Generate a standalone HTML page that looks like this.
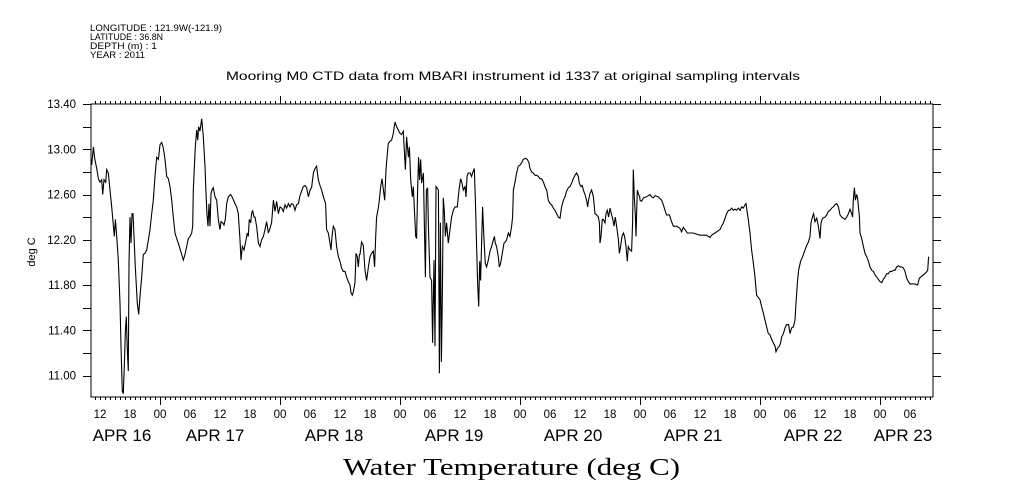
<!DOCTYPE html>
<html><head><meta charset="utf-8"><style>
html,body{margin:0;padding:0;background:#fff;}
svg{display:block;font-family:"Liberation Sans",sans-serif;}
</style></head><body>
<svg id="chart" width="1009" height="504" viewBox="0 0 1009 504" xmlns="http://www.w3.org/2000/svg">
<g font-size="9" fill="#000">
<text x="90" y="31" textLength="132" lengthAdjust="spacingAndGlyphs">LONGITUDE : 121.9W(-121.9)</text>
<text x="90" y="40" textLength="73" lengthAdjust="spacingAndGlyphs">LATITUDE : 36.8N</text>
<text x="90" y="49" textLength="67" lengthAdjust="spacingAndGlyphs">DEPTH (m) : 1</text>
<text x="90" y="58" textLength="55" lengthAdjust="spacingAndGlyphs">YEAR : 2011</text>
</g>
<text x="226" y="80" font-size="12" textLength="574" lengthAdjust="spacingAndGlyphs">Mooring M0 CTD data from MBARI instrument id 1337 at original sampling intervals</text>
<text transform="translate(35,252) rotate(-90)" font-size="11" text-anchor="middle">deg C</text>
<text x="343" y="475" font-family="'Liberation Serif',serif" font-size="24" textLength="337" lengthAdjust="spacingAndGlyphs">Water Temperature (deg C)</text>
<g id="axes"></g>
<g id="marks"></g>
</svg>
<script>
const times = [-13.67,-13.33,-13.07,-12.67,-12.33,-12,-11.67,-11.47,-11.2,-10.87,-10.67,-10.33,-10,-9.67,-9.33,-9.13,-8.93,-8.67,-8.33,-8,-7.8,-7.53,-7.33,-7.13,-6.93,-6.73,-6.53,-6.33,-6.2,-6,-5.8,-5.6,-5.4,-5.2,-4.93,-4.53,-4.27,-4,-3.67,-3.33,-3,-2.67,-2.33,-2,-1.67,-1.33,-1,-0.67,-0.33,0,0.33,0.67,1,1.33,1.67,2,2.33,2.67,3,3.33,3.67,4,4.33,4.67,5,5.33,5.67,6,6.33,6.53,6.67,6.87,7.07,7.33,7.53,7.73,8,8.33,8.67,9,9.2,9.4,9.6,9.8,10,10.2,10.4,10.67,11,11.33,11.67,12,12.2,12.53,12.8,13.07,13.33,13.67,14.13,14.53,15,15.33,15.67,16,16.2,16.47,16.8,17.13,17.47,17.67,17.87,18.13,18.33,18.53,18.8,19,19.33,19.67,20,20.33,20.67,21,21.33,21.67,22,22.33,22.67,23,23.33,23.67,24,24.33,24.67,25,25.33,25.67,26,26.33,26.67,27,27.33,27.67,28,28.33,28.67,29,29.33,29.67,30,30.33,30.67,31,31.33,31.67,32,32.33,32.67,33.13,33.33,33.67,34,34.2,34.4,34.67,35,35.33,35.67,36,36.33,36.67,37,37.33,37.67,38,38.2,38.47,38.67,39,39.2,39.47,39.67,39.87,
40,40.33,40.67,41,41.33,41.67,42,42.33,42.67,42.93,43.13,43.33,43.67,43.87,44.13,44.4,44.67,44.93,45.2,45.47,45.67,46,46.33,46.67,47,47.33,47.67,48,48.33,48.67,48.87,49.07,49.33,49.67,49.87,50.13,50.47,50.67,50.93,51.13,51.33,51.53,51.73,51.93,52.13,52.33,52.67,52.87,53.07,53.27,53.53,53.73,54,54.33,54.53,54.8,55,55.2,55.4,55.67,55.87,56.07,56.27,56.47,56.67,56.87,57.07,57.33,57.67,58,58.33,58.67,59,59.47,59.8,60.13,60.4,60.67,61,61.2,61.4,61.67,62,62.33,62.53,62.87,63.07,63.33,63.53,63.73,63.93,64.13,64.33,64.53,64.8,65.07,65.33,65.67,66,66.33,66.67,66.87,67.07,67.33,67.67,67.87,68.13,68.47,68.8,69.07,69.33,69.67,70,70.33,70.53,70.67,71,71.33,71.67,72,72.33,72.67,73.07,73.47,73.8,74,74.33,74.67,75,75.33,75.67,76,76.33,76.67,77,77.33,77.67,78,78.33,78.67,79,79.33,79.67,80,80.33,80.67,81,81.33,81.67,82,82.33,82.67,83,83.33,83.67,83.87,84.2,84.47,84.67,85,85.33,85.53,85.73,86,86.33,86.67,87,87.33,87.67,87.87,88,88.2,88.47,88.67,89,89.2,89.47,89.73,90,90.33,90.53,90.8,91.07,91.33,91.67,91.87,92.13,92.4,92.67,92.93,93.2,93.47,93.67,94,94.33,94.53,94.67,94.87,95.07,95.2,95.47,95.73,95.93,
96,96.33,96.67,97.33,98,98.33,98.67,99,99.67,100.33,100.67,101,101.33,101.87,102.33,102.67,103.33,104,104.33,104.67,105,105.47,106,106.67,107.33,108,108.67,109.33,110,110.33,111,111.67,112,112.33,112.67,113,113.33,113.67,114,114.33,114.67,115,115.33,115.67,116,116.33,116.67,117,117.2,117.47,117.67,118,118.33,118.67,119,119.33,120,120.33,120.67,121,121.33,121.67,122,122.33,122.67,123,123.2,123.47,123.87,124.13,124.33,124.67,125,125.33,125.73,126,126.33,126.67,127,127.2,127.47,127.73,128.13,128.53,129,129.33,129.67,130,130.2,130.47,130.73,131,131.33,131.67,132,132.2,132.53,133,133.33,133.67,134,134.33,134.67,135,135.33,135.67,136,136.33,136.67,137,137.33,137.67,138,138.33,138.53,138.67,138.87,139.07,139.33,139.53,139.87,140,140.33,140.67,141,141.33,141.67,142,142.33,142.67,143,143.33,143.67,144,144.33,144.67,145,145.33,145.67,146,146.33,146.67,147,147.33,147.67,148,148.33,148.67,149,149.33,149.67,150,150.33,150.67,151,151.33,151.53,151.87,152.13,152.67,153.2,153.53,153.73];
const temps = [12.86,13.02,12.92,12.83,12.74,12.71,12.73,12.60,12.73,12.71,12.82,12.79,12.64,12.49,12.32,12.23,12.38,12.23,12.02,11.64,11.26,10.86,10.84,11.08,11.40,11.52,11.23,11.04,11.99,12.40,12.17,12.43,12.43,12.23,11.96,11.64,11.54,11.70,11.87,12.07,12.08,12.11,12.20,12.29,12.43,12.55,12.76,12.93,12.91,13.04,13.06,13.01,12.91,12.76,12.74,12.67,12.55,12.40,12.26,12.21,12.17,12.12,12.07,12.02,12.07,12.14,12.21,12.23,12.26,12.32,12.64,12.85,13.02,13.17,13.08,13.20,13.16,13.27,13.11,12.85,12.61,12.42,12.32,12.52,12.32,12.61,12.64,12.66,12.58,12.55,12.38,12.29,12.36,12.35,12.33,12.38,12.52,12.58,12.60,12.57,12.52,12.49,12.43,12.20,12.02,12.14,12.11,12.18,12.26,12.23,12.38,12.35,12.43,12.46,12.40,12.40,12.32,12.17,12.14,12.20,12.23,12.29,12.36,12.26,12.30,12.35,12.55,12.45,12.54,12.43,12.49,12.48,12.45,12.51,12.48,12.52,12.49,12.52,12.51,12.46,12.51,12.52,12.59,12.63,12.67,12.68,12.66,12.58,12.64,12.66,12.79,12.83,12.85,12.73,12.68,12.64,12.58,12.52,12.29,12.26,12.17,12.11,12.23,12.32,12.29,12.14,12.05,12.01,11.95,11.92,11.92,11.87,11.83,11.80,11.73,11.71,11.74,11.82,12.08,12.05,11.96,12.07,
12.07,12.18,12.15,11.93,11.84,11.96,12.05,12.08,12.10,11.96,12.23,12.40,12.48,12.55,12.67,12.74,12.64,12.55,12.82,12.96,13.05,13.07,13.08,13.14,13.24,13.20,13.17,13.14,13.13,13.16,12.99,12.82,13.11,12.93,13.02,12.73,12.58,12.67,12.43,12.23,12.21,12.64,12.93,12.73,12.91,12.70,12.79,12.32,11.87,12.64,12.66,12.26,11.87,11.84,11.29,12.02,11.26,12.67,12.66,12.64,11.02,12.35,11.12,11.67,12.57,12.45,12.23,12.35,12.17,12.29,12.40,12.46,12.49,12.49,12.64,12.74,12.70,12.64,12.67,12.58,12.76,12.79,12.79,12.76,12.79,12.83,12.55,12.14,11.82,11.61,12.01,11.84,12.17,12.49,12.20,11.99,11.96,12.02,12.10,12.14,12.20,12.23,12.17,12.14,12.05,11.96,11.99,12.08,12.17,12.18,12.20,12.26,12.23,12.32,12.40,12.64,12.71,12.79,12.85,12.86,12.88,12.91,12.92,12.91,12.88,12.83,12.80,12.79,12.77,12.77,12.76,12.74,12.74,12.71,12.67,12.64,12.55,12.52,12.51,12.48,12.46,12.43,12.40,12.39,12.49,12.55,12.58,12.63,12.66,12.67,12.70,12.74,12.77,12.79,12.76,12.70,12.67,12.68,12.64,12.60,12.55,12.49,12.55,12.61,12.64,12.58,12.43,12.42,12.40,12.35,12.17,12.23,12.38,12.38,12.35,12.43,12.46,12.40,12.48,12.42,12.39,12.32,12.40,12.32,12.20,12.08,12.14,12.23,12.26,12.23,12.14,12.01,12.14,12.11,12.10,12.35,12.82,12.58,12.43,12.23,12.64,12.60,12.58,
12.55,12.54,12.57,12.58,12.60,12.58,12.57,12.59,12.58,12.55,12.51,12.46,12.42,12.42,12.36,12.32,12.32,12.30,12.27,12.31,12.29,12.26,12.26,12.26,12.25,12.24,12.24,12.24,12.22,12.24,12.26,12.28,12.29,12.32,12.35,12.39,12.43,12.46,12.46,12.48,12.46,12.47,12.46,12.48,12.46,12.49,12.48,12.51,12.52,12.43,12.38,12.26,12.11,11.99,11.87,11.71,11.67,11.61,11.55,11.49,11.43,11.37,11.36,11.32,11.29,11.26,11.21,11.24,11.26,11.29,11.34,11.37,11.42,11.45,11.45,11.37,11.42,11.43,11.49,11.64,11.82,11.93,12.01,12.05,12.11,12.15,12.18,12.23,12.35,12.40,12.43,12.36,12.39,12.32,12.21,12.35,12.39,12.40,12.42,12.45,12.46,12.48,12.49,12.51,12.52,12.49,12.42,12.40,12.39,12.38,12.40,12.43,12.47,12.43,12.40,12.55,12.66,12.55,12.60,12.57,12.40,12.26,12.21,12.14,12.08,12.05,12.01,11.96,11.93,11.92,11.89,11.87,11.85,11.83,11.82,11.85,11.87,11.90,11.90,11.92,11.92,11.93,11.93,11.96,11.97,11.96,11.96,11.95,11.92,11.86,11.83,11.81,11.81,11.81,11.81,11.80,11.80,11.86,11.87,11.89,11.91,11.93,12.05];
const yTickLabels = ["11.00","11.40","11.80","12.20","12.60","13.00","13.40"];
const hourLabels = ["12","18","00","06","12","18","00","06","12","18","00","06","12","18","00","06","12","18","00","06","12","18","00","06","12","18","00","06"];
const dayLabels = ["APR 16","APR 17","APR 18","APR 19","APR 20","APR 21","APR 22","APR 23"];

const NS="http://www.w3.org/2000/svg";
const L=91, R=933, T=104, B=397;
const tMin=-13.8, tMax=154.6, vMin=10.81, vMax=13.4;
function xs(t){return L+(t-tMin)/(tMax-tMin)*(R-L);}
function ys(v){return T+(vMax-v)/(vMax-vMin)*(B-T);}
const axes=document.getElementById('axes');
const marks=document.getElementById('marks');
function mk(tag,attrs,parent){const e=document.createElementNS(NS,tag);for(const k in attrs)e.setAttribute(k,attrs[k]);parent.appendChild(e);return e;}

const frame=mk('rect',{x:L,y:T,width:R-L,height:B-T,fill:'none',stroke:'#000','stroke-width':1,'shape-rendering':'crispEdges'},axes);



let tp='';
for(let v=11.0;v<=13.41;v+=0.2){const y=Math.round(ys(v))+0.5;tp+=`M${L-8} ${y}H${L}M${R} ${y}H${R+8}`;}
for(let h=Math.ceil(tMin);h<=tMax;h++){const x=Math.round(xs(h))+0.5;const len=(h%24===0)?8:3;tp+=`M${x} ${T}V${T-len}M${x} ${B}V${B+len}`;}
const ticks=mk('path',{d:tp,stroke:'#000','stroke-width':1,fill:'none'},axes);



yTickLabels.forEach(s=>{const v=parseFloat(s);const t=mk('text',{x:L-15,y:ys(v)+4,'font-size':11.5,'text-anchor':'end'},axes);t.textContent=s;

});

hourLabels.forEach((s,i)=>{const h=-12+6*i;const t=mk('text',{x:xs(h),y:418,'font-size':11.5,'text-anchor':'middle'},axes);t.textContent=s;

});

const dayCenters=[-7.6,11,34.8,58.8,82.6,106.6,130.6,148.6];
dayLabels.forEach((s,i)=>{const t=mk('text',{x:xs(dayCenters[i]),y:441,'font-size':17,'text-anchor':'middle'},axes);t.textContent=s;

});

let d='';
times.forEach((t,i)=>{d+=(i?'L':'M')+xs(t).toFixed(1)+' '+ys(temps[i]).toFixed(1);});
const line=mk('path',{d:d,fill:'none',stroke:'#000','stroke-width':1.1,'stroke-linejoin':'miter'},marks);


</script>
</body></html>
